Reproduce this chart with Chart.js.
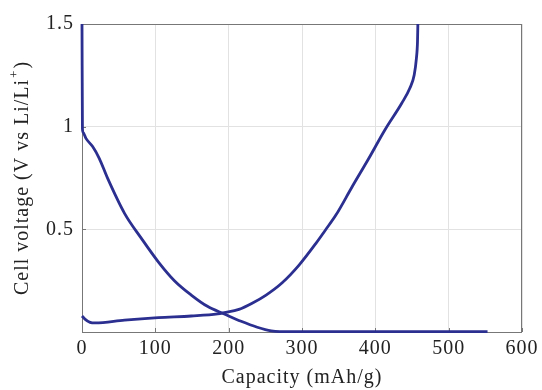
<!DOCTYPE html>
<html>
<head>
<meta charset="utf-8">
<script src="https://cdn.jsdelivr.net/npm/chart.js@4"></script>
<style>
  html, body { margin: 0; padding: 0; background: #fff; }
  #wrap { width: 542px; height: 390px; }
</style>
</head>
<body>
<div id="wrap"><canvas id="chart"></canvas></div>
<script>
// discharge curve (lithiation)
const dischargeCap = [0, 0.6, 1.5, 5.4, 14.5, 23.5, 35, 58, 81, 104, 126, 149, 171, 194, 217, 239, 258, 270, 400, 553];
const dischargeV   = [1.5, 0.99, 0.972, 0.943, 0.903, 0.846, 0.748, 0.578, 0.456, 0.342, 0.25, 0.18, 0.125, 0.088, 0.052, 0.023, 0.005, 0.002, 0.002, 0.002];

// charge curve (delithiation)
const chargeCap = [0, 4, 11, 18, 58, 104, 149, 185, 194, 214, 232, 251, 273, 296, 319, 332, 346, 368, 391, 413, 436, 447, 453, 456, 457.5, 458];
const chargeV   = [0.078, 0.063, 0.047, 0.044, 0.058, 0.07, 0.078, 0.088, 0.094, 0.11, 0.14, 0.18, 0.24, 0.326, 0.432, 0.497, 0.568, 0.705, 0.845, 0.984, 1.114, 1.187, 1.252, 1.333, 1.414, 1.5];

const xTicks = [0, 100, 200, 300, 400, 500, 600];
const yTicks = [0, 0.5, 1, 1.5];

const lineColor = '#2b2f8f';
const textColor = '#222';
const serif = '"Liberation Serif", "DejaVu Serif", serif';

function toPoints(xs, ys) {
  return xs.map((x, i) => ({ x: x, y: ys[i] }));
}

// frame, inward ticks (under the curves) and the y title with superscript
const framePlugin = {
  id: 'frame',
  beforeDraw(chart) {
    chart.ctx.letterSpacing = '1px';
  },
  beforeDatasetsDraw(chart) {
    const { ctx, chartArea: a, scales } = chart;
    ctx.save();
    ctx.strokeStyle = '#777';
    ctx.lineWidth = 1;
    ctx.strokeRect(a.left + 0.5, a.top + 0.5, a.right - a.left - 1, a.bottom - a.top);
    ctx.beginPath();
    xTicks.forEach(v => {
      const px = Math.round(scales.x.getPixelForValue(v)) + 0.5;
      ctx.moveTo(px, a.bottom); ctx.lineTo(px, a.bottom - 4);
    });
    yTicks.forEach(v => {
      const py = Math.round(scales.y.getPixelForValue(v)) + 0.5;
      ctx.moveTo(a.left, py); ctx.lineTo(a.left + 4, py);
    });
    ctx.stroke();
    ctx.restore();
  },
  afterDraw(chart) {
    const { ctx, chartArea: a } = chart;
    ctx.save();
    const main = 'Cell voltage (V vs Li/Li';
    ctx.letterSpacing = '1px';
    ctx.font = '20px ' + serif;
    const wMain = ctx.measureText(main).width;
    ctx.font = '13px ' + serif;
    const wSup = ctx.measureText('+').width;
    ctx.font = '20px ' + serif;
    const wEnd = ctx.measureText(')').width;
    const total = wMain + wSup + 2 + wEnd;
    ctx.translate(23, (a.top + a.bottom) / 2);
    ctx.rotate(-Math.PI / 2);
    ctx.fillStyle = textColor;
    ctx.textBaseline = 'middle';
    ctx.textAlign = 'left';
    const x0 = -total / 2;
    ctx.fillText(main, x0, 0);
    ctx.font = '13px ' + serif;
    ctx.fillText('+', x0 + wMain + 1, -8);
    ctx.font = '20px ' + serif;
    ctx.fillText(')', x0 + wMain + wSup + 2, 0);
    ctx.restore();
  }
};

new Chart(document.getElementById('chart'), {
  type: 'scatter',
  data: {
    datasets: [
      {
        label: 'Discharge',
        data: toPoints(dischargeCap, dischargeV),
        showLine: true,
        borderColor: lineColor,
        borderWidth: 2.8,
        pointRadius: 0,
        cubicInterpolationMode: 'monotone',
        clip: 4
      },
      {
        label: 'Charge',
        data: toPoints(chargeCap, chargeV),
        showLine: true,
        borderColor: lineColor,
        borderWidth: 2.8,
        pointRadius: 0,
        cubicInterpolationMode: 'monotone',
        clip: 4
      }
    ]
  },
  options: {
    responsive: true,
    maintainAspectRatio: false,
    animation: false,
    layout: { padding: { top: 24, right: 18, left: 0, bottom: 0 } },
    plugins: {
      legend: { display: false },
      tooltip: { enabled: false }
    },
    scales: {
      x: {
        type: 'linear',
        min: 0,
        max: 600,
        afterBuildTicks: s => { s.ticks = xTicks.map(v => ({ value: v })); },
        afterFit: s => { s.height = 58; },
        grid: { color: '#e2e2e2', drawTicks: false },
        border: { display: false },
        ticks: {
          padding: 5,
          color: textColor,
          font: { family: serif, size: 20 },
          maxRotation: 0
        },
        title: {
          display: true,
          text: 'Capacity (mAh/g)',
          color: textColor,
          font: { family: serif, size: 20 },
          padding: { top: 1, bottom: 0 }
        }
      },
      y: {
        type: 'linear',
        min: 0,
        max: 1.5,
        afterBuildTicks: s => { s.ticks = yTicks.map(v => ({ value: v })); },
        afterFit: s => { s.width = 82; },
        grid: { color: '#e2e2e2', drawTicks: false },
        border: { display: false },
        ticks: {
          padding: 8,
          color: textColor,
          font: { family: serif, size: 20 },
          callback: v => (v === 0 ? '' : String(v))
        }
      }
    }
  },
  plugins: [framePlugin]
});
</script>
</body>
</html>
